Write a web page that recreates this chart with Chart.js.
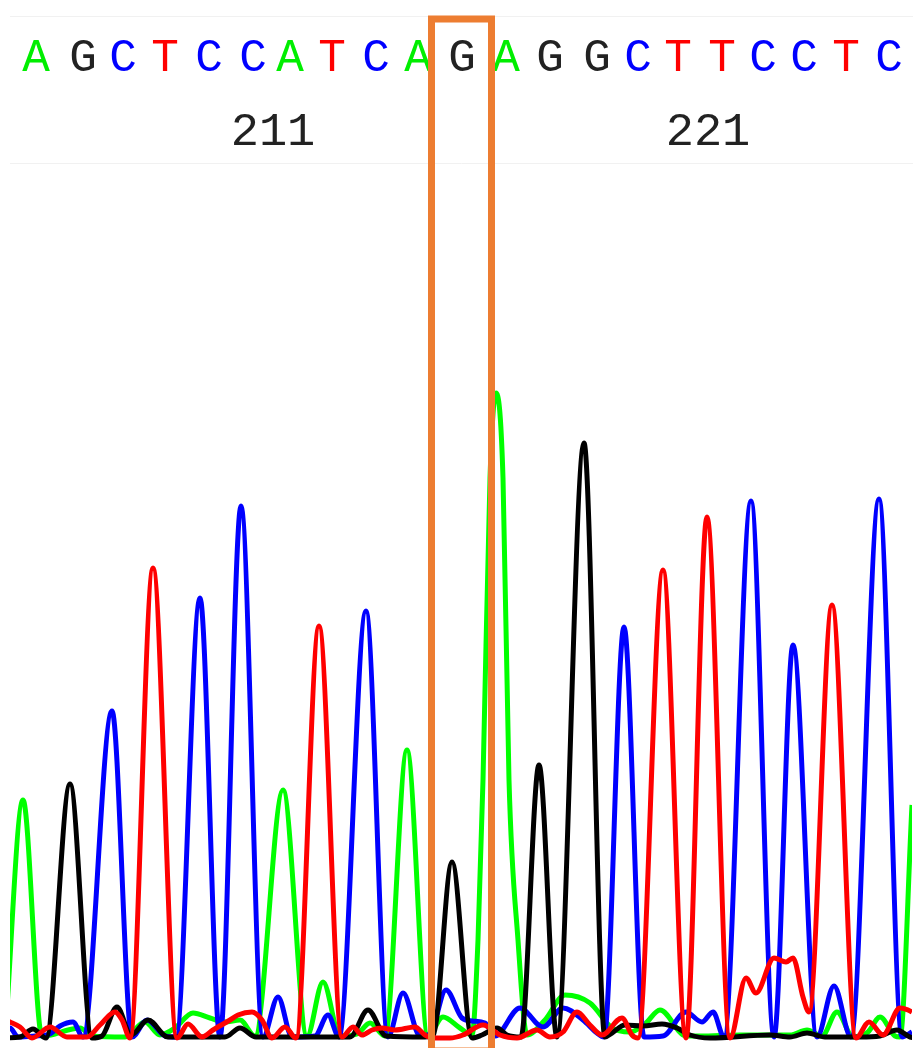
<!DOCTYPE html>
<html>
<head>
<meta charset="utf-8">
<script src="https://cdn.jsdelivr.net/npm/chart.js@4/dist/chart.umd.min.js"></script>
<style>
    html, body { margin: 0; padding: 0; background: #fff; }
    #wrap { width: 913px; height: 1048px; position: relative; }
</style>
</head>
<body>
<div id="wrap"><canvas id="trace"></canvas></div>
<script>
// base calls above the trace, x = scan position
const bases = ['A', 'G', 'C', 'T', 'C', 'C', 'A', 'T', 'C', 'A', 'G', 'A', 'G', 'G', 'C', 'T', 'T', 'C', 'C', 'T', 'C'];
const basePos = [36, 83, 123, 165, 209, 253, 290, 332, 376, 418, 462, 506, 550, 597, 638, 678, 722, 763, 804, 846, 889];
const posLabels = ['211', '221'];
const posLabelX = [273, 708];
const highlight = [431.5, 491.5];

// [scan position, signal]
const traceA = [
    [5, 0], [23, 238], [42, 2], [55, 4], [68, 8], [80, 10], [92, 2], [125, 1], [145, 16], [160, 3],
    [175, 10], [193, 25], [210, 20], [225, 16], [240, 18], [255, 2], [283, 248], [307, 2], [323, 56],
    [340, 2], [357, 4], [370, 15], [385, 2], [407, 288], [428, 2], [443, 21], [460, 10], [472, 3],
    [478, 98], [483, 258], [490, 560], [496, 645], [503, 560], [509, 258], [518, 98], [527, 3],
    [545, 18], [565, 43], [590, 35], [612, 10], [630, 6], [645, 14], [660, 28], [686, 2], [700, 2],
    [740, 3], [790, 3], [807, 8], [822, 2], [837, 26], [853, 1], [868, 6], [880, 21], [895, 2],
    [900, 1], [912, 233], [925, 470]
];
const traceG = [
    [0, 0], [20, 1], [33, 9], [46, 0], [70, 254], [92, 0], [102, 2], [117, 31], [131, 3], [148, 18],
    [168, 1], [225, 1], [240, 10], [256, 1], [350, 1], [368, 28], [386, 2], [425, 1], [433, 2],
    [452, 176], [472, 0], [482, 3], [497, 10], [507, 3], [521, 1], [539, 273], [557, 1], [584, 595],
    [605, 1], [612, 5], [625, 13], [643, 12], [662, 14], [677, 10], [690, 3], [710, 0], [770, 3],
    [790, 1], [807, 5], [825, 1], [860, 1], [880, 2], [897, 8], [910, 1], [920, 0]
];
const traceC = [
    [0, 10], [10, 10], [18, 1], [35, 2], [50, 4], [60, 12], [73, 16], [83, 1], [112, 327], [132, 1],
    [147, 18], [165, 2], [176, 1], [200, 440], [220, 1], [241, 532], [263, 1], [278, 41], [292, 1],
    [315, 2], [328, 23], [339, 1], [366, 427], [388, 1], [403, 45], [420, 2], [430, 4], [446, 48],
    [462, 20], [472, 17], [485, 15], [495, 2], [520, 30], [543, 11], [563, 30], [583, 18], [597, 5],
    [604, 1], [624, 411], [644, 1], [663, 2], [686, 26], [702, 16], [713, 26], [724, 1], [751, 537],
    [774, 1], [793, 393], [817, 1], [834, 52], [851, 1], [879, 539], [902, 1], [912, 6]
];
const traceT = [
    [0, 20], [10, 16], [20, 11], [32, 0], [50, 11], [67, 1], [87, 1], [100, 13], [115, 26], [122, 18],
    [130, 0], [153, 470], [177, 0], [188, 14], [202, 1], [213, 8], [230, 18], [238, 23], [252, 26],
    [262, 18], [272, 0], [285, 11], [296, 0], [319, 412], [342, 1], [353, 11], [362, 3], [372, 8],
    [382, 10], [395, 8], [415, 11], [425, 3], [432, 0], [450, 0], [463, 3], [483, 13], [500, 3],
    [517, 0], [537, 8], [550, 1], [563, 6], [577, 26], [590, 13], [602, 3], [622, 20], [632, 3],
    [638, 0], [663, 468], [686, 0], [707, 521], [730, 0], [746, 60], [756, 45], [774, 80], [786, 76],
    [793, 80], [803, 41], [809, 26], [832, 433], [856, 0], [869, 16], [883, 3], [900, 30], [912, 26],
    [920, 20]
];

const baseColors = { A: '#00ee00', C: '#0000ff', G: '#222222', T: '#ff0000' };

function toPoints(arr) {
    return arr.map(p => ({ x: p[0], y: p[1] }));
}

function traceSet(label, arr, color) {
    return {
        label: label,
        data: toPoints(arr),
        borderColor: color,
        backgroundColor: 'transparent',
        borderWidth: 5,
        pointRadius: 0,
        cubicInterpolationMode: 'monotone',
        clip: 0
    };
}

const sequencePlugin = {
    id: 'sequence',
    afterDraw(chart) {
        let ctx = chart.ctx;
        let xs = chart.scales.x;
        let ys = chart.scales.y;
        ctx.save();

        ctx.strokeStyle = '#f1f1f1';
        ctx.lineWidth = 1;
        ctx.beginPath();
        ctx.moveTo(10, 16.5);
        ctx.lineTo(913, 16.5);
        ctx.moveTo(10, 163.5);
        ctx.lineTo(913, 163.5);
        ctx.stroke();

        ctx.textAlign = 'center';
        ctx.textBaseline = 'alphabetic';
        ctx.font = '46px "Liberation Mono", monospace';
        for (let i = 0; i < bases.length; i++) {
            ctx.fillStyle = baseColors[bases[i]];
            ctx.fillText(bases[i], xs.getPixelForValue(basePos[i]), 71);
        }
        ctx.font = '47px "Liberation Mono", monospace';
        ctx.fillStyle = '#222222';
        for (let i = 0; i < posLabels.length; i++) {
            ctx.fillText(posLabels[i], xs.getPixelForValue(posLabelX[i]), 145);
        }

        // highlighted call
        let x0 = xs.getPixelForValue(highlight[0]);
        let x1 = xs.getPixelForValue(highlight[1]);
        ctx.strokeStyle = '#ed7d31';
        ctx.lineWidth = 7;
        ctx.strokeRect(x0, 19, x1 - x0, ys.getPixelForValue(-13) - 19);
        ctx.restore();
    }
};

let ctx = document.getElementById('trace').getContext('2d');
let chart = new Chart(ctx, {
    type: 'line',
    data: {
        datasets: [
            traceSet('T', traceT, '#ff0000'),
            traceSet('G', traceG, '#000000'),
            traceSet('C', traceC, '#0000ff'),
            traceSet('A', traceA, '#00ff00')
        ]
    },
    options: {
        responsive: true,
        maintainAspectRatio: false,
        animation: false,
        layout: { padding: { left: 10, right: 1, top: 180, bottom: 6 } },
        plugins: {
            legend: { display: false },
            tooltip: { enabled: false }
        },
        scales: {
            x: { type: 'linear', min: 10, max: 912, display: false },
            y: { min: -4, max: 858, display: false }
        }
    },
    plugins: [sequencePlugin]
});
</script>
</body>
</html>
